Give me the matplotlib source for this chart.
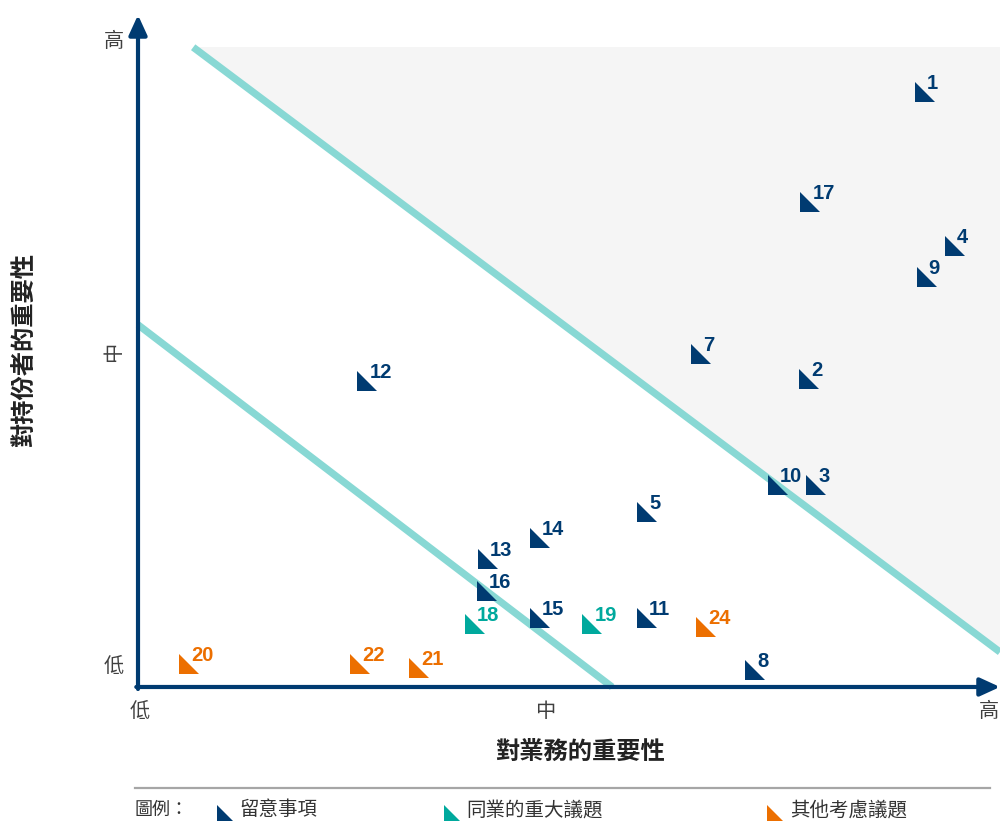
import matplotlib
matplotlib.use("Agg")
import matplotlib.pyplot as plt
from matplotlib.path import Path
from matplotlib.patches import Polygon

plt.rcParams['font.family'] = ['Noto Sans CJK TC', 'DejaVu Sans']

# issue number, x (對業務的重要性), y (對持份者的重要性), group
issue_ids = [1, 17, 4, 9, 7, 2, 12, 10, 3, 5, 14, 13, 16, 15, 18, 19, 11, 24, 8, 20, 22, 21]
x_vals = [9.13, 7.80, 9.48, 9.15, 6.53, 7.79, 2.66, 7.42, 7.87, 5.91, 4.66, 4.06, 4.05, 4.66,
          3.91, 5.27, 5.90, 6.59, 7.16, 0.59, 2.58, 3.26]
y_vals = [8.85, 7.22, 6.56, 6.10, 4.96, 4.58, 4.55, 3.00, 3.00, 2.60, 2.22, 1.90, 1.43, 1.03,
          0.94, 0.94, 1.03, 0.89, 0.25, 0.34, 0.34, 0.28]
groups = ['a'] * 14 + ['b', 'b', 'a', 'c', 'a', 'c', 'c', 'c']

group_colors = {'a': '#003B71', 'b': '#00A99D', 'c': '#EC6F00'}
group_names = {'a': '留意事項', 'b': '同業的重大議題', 'c': '其他考慮議題'}

x_tick_pos = [0.02, 4.72, 9.87]
y_tick_pos = [0.30, 4.99, 9.60]
tick_labels = ['低', '中', '高']
y_tick_rot = [0, 90, 0]

# threshold lines (start, end)
upper_line = [(0.64, 9.52), (10.0, 0.52)]
lower_line = [(0.0, 5.39), (5.50, 0.0)]

navy = '#003B71'
teal_line = '#88D8D4'

# right triangle marker, right angle at bottom-left
tri = Path([(-1, 1), (-1, -1), (1, -1), (-1, 1)],
           [Path.MOVETO, Path.LINETO, Path.LINETO, Path.CLOSEPOLY])

fig = plt.figure(figsize=(10, 8.23), dpi=100)
ax = fig.add_axes([0, 0, 1, 1])
ax.set_xlim(-1.601, 10.0)
ax.set_ylim(-2.024, 10.223)
ax.axis('off')

# shaded high-priority zone
(ux0, uy0), (ux1, uy1) = upper_line
ax.add_patch(Polygon([(ux0, uy0), (ux1, uy0), (ux1, uy1)], closed=True,
                     facecolor='#F5F5F5', edgecolor='none', zorder=0))

for (sx, sy), (ex, ey) in [upper_line, lower_line]:
    ax.plot([sx, ex], [sy, ey], color=teal_line, lw=5.2, solid_capstyle='butt', zorder=1)

# axes with arrows
ax.annotate('', xy=(10.0, 0), xytext=(-0.02, 0),
            arrowprops=dict(arrowstyle='-|>,head_length=1.2,head_width=0.55', color=navy, lw=3,
                            shrinkA=0, shrinkB=0), zorder=3)
ax.annotate('', xy=(0, 10.0), xytext=(0, -0.03),
            arrowprops=dict(arrowstyle='-|>,head_length=1.2,head_width=0.55', color=navy, lw=3,
                            shrinkA=0, shrinkB=0), zorder=3)

for xp, lab in zip(x_tick_pos, tick_labels):
    ax.text(xp, -0.36, lab, ha='center', va='center', fontsize=14.5, color='#404040',
            fontweight='light')
for yp, lab, rot in zip(y_tick_pos, tick_labels, y_tick_rot):
    ax.text(-0.28, yp, lab, ha='center', va='center', fontsize=14.5, color='#404040',
            fontweight='light', rotation=rot)

ax.text(5.13, -0.97, '對業務的重要性', ha='center', va='center', fontsize=17.5,
        fontweight='bold', color='#222222')
ax.text(-1.31, 5.01, '對持份者的重要性', ha='center', va='center', fontsize=17.5,
        fontweight='bold', color='#222222', rotation=90)

# points
for num, xv, yv, g in zip(issue_ids, x_vals, y_vals, groups):
    ax.plot(xv, yv, marker=tri, markersize=14.5, markeredgewidth=0,
            color=group_colors[g], linestyle='none', zorder=4)
    ax.annotate(str(num), (xv, yv), xytext=(2, 3), textcoords='offset pixels',
                ha='left', va='baseline', fontsize=14.5, fontweight='bold',
                color=group_colors[g], family=['Liberation Sans', 'DejaVu Sans'], zorder=5)

# legend
ax.plot([-0.035, 9.88], [-1.50, -1.50], color='#A6A6A6', lw=1.6, clip_on=False)
ax.text(-0.035, -1.83, '圖例：', ha='left', va='center', fontsize=13, color='#333333',
        fontweight='light')
legend_x = {'a': 1.01, 'b': 3.64, 'c': 7.39}
for g in ['a', 'b', 'c']:
    ax.plot(legend_x[g], -1.87, marker=tri, markersize=12, markeredgewidth=0,
            color=group_colors[g], linestyle='none')
    ax.text(legend_x[g] + 0.17, -1.83, group_names[g], ha='left', va='center', fontsize=14,
            color='#333333', fontweight='light')

fig.savefig('out.png', dpi=100)
